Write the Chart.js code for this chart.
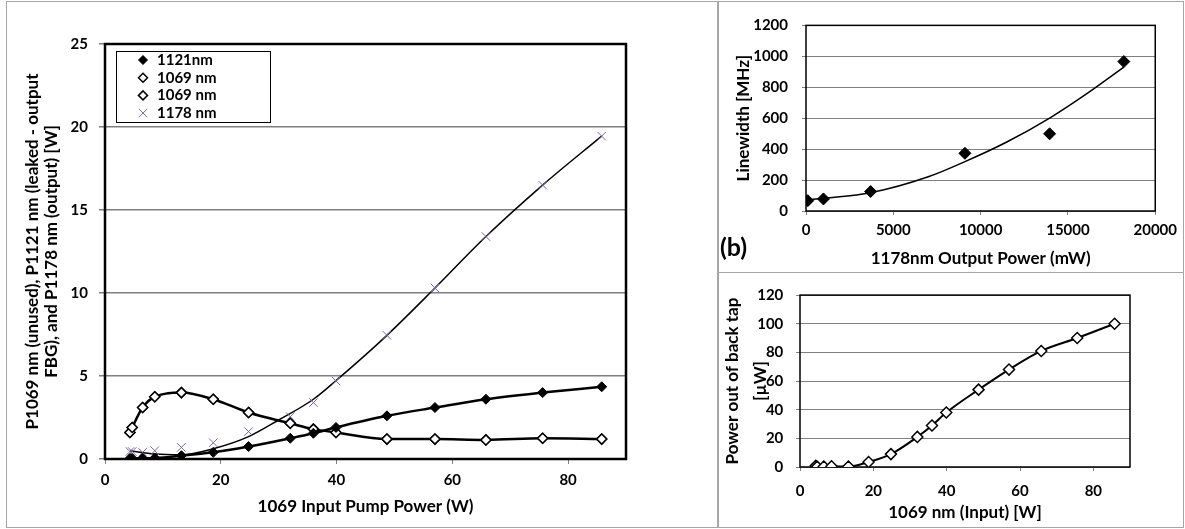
<!DOCTYPE html>
<html>
<head>
<meta charset="utf-8">
<script src="https://cdn.jsdelivr.net/npm/chart.js@4.4.1/dist/chart.umd.min.js"></script>
<style>
  body { margin: 0; background: #fff; width: 1185px; height: 529px; position: relative; overflow: hidden; }
  .panel { position: absolute; border: 1px solid #a6a6a6; box-sizing: border-box; }
  .panel canvas { position: absolute; left: 0; top: 0; }
</style>
</head>
<body>
<div class="panel" style="left:6px;top:1px;width:713px;height:527px"><canvas id="main" width="711" height="525"></canvas></div>
<div class="panel" style="left:717px;top:1px;width:467px;height:272px"><canvas id="lw" width="465" height="270"></canvas></div>
<div class="panel" style="left:717px;top:272px;width:467px;height:256px"><canvas id="tap" width="465" height="254"></canvas></div>
<script>
// main chart: 1069 pump sweep
const pumpPower = [4.3, 4.7, 6.5, 8.6, 13.2, 18.7, 24.8, 32.0, 36.0, 39.9, 48.7, 57.0, 65.8, 75.6, 85.8];
const p1121 = [0.03, 0.03, 0.04, 0.06, 0.2, 0.4, 0.75, 1.25, 1.55, 1.9, 2.6, 3.1, 3.6, 4.0, 4.35];
const p1069 = [1.6, 1.9, 3.1, 3.75, 4.0, 3.6, 2.8, 2.15, 1.8, 1.6, 1.2, 1.2, 1.15, 1.25, 1.2];
const p1178 = [0.45, 0.45, 0.4, 0.5, 0.7, 0.98, 1.65, 2.55, 3.4, 4.7, 7.45, 10.3, 13.4, 16.5, 19.45];
// trend line of the 1178 points
const fit1178X = [4.3, 8.6, 13.2, 18.7, 24.8, 30, 36, 40, 48.7, 57, 65.8, 75.6, 85.8];
const fit1178Y = [0.5, 0.3, 0.25, 0.62, 1.35, 2.35, 3.6, 4.75, 7.45, 10.3, 13.4, 16.5, 19.45];
const mainTicksY = [0, 5, 10, 15, 20, 25];

// (b) linewidth vs output power
const outputPower = [100, 1000, 3700, 9100, 13950, 18200];
const linewidth = [67, 78, 126, 373, 499, 966];
const fitLwX = [100, 1000, 3700, 7000, 9100, 11500, 14000, 16000, 18200];
const fitLwY = [72, 82, 118, 221, 319, 446, 604, 752, 930];

// back tap power
const tapPower = [0.8, 0.2, 0.3, 0.5, 0.3, 3.5, 9, 21, 29, 38, 54, 68, 81, 90, 100];

const FONT = 'Lato';
const grey = '#7f7f7f';
const purple = '#8064a2';
Chart.defaults.color = '#000';
Chart.defaults.font.family = FONT;
Chart.defaults.animation = false;

const pts = (xs, ys) => xs.map((x, i) => ({ x: x, y: ys[i] }));
const bold = (size, lh) => ({ family: FONT, size: size, weight: 'bold', lineHeight: lh || 1.25 });
const plain = v => String(v);

// plot area frame
const frame = {
  id: 'frame',
  beforeDatasetsDraw(chart, args, opts) {
    const a = chart.chartArea, ctx = chart.ctx;
    ctx.save();
    ctx.strokeStyle = opts.color || '#000';
    ctx.lineWidth = opts.width || 1;
    ctx.strokeRect(a.left, a.top, a.right - a.left, a.bottom - a.top);
    ctx.restore();
  }
};

// boxed legend inside the plot area
const boxLegend = {
  id: 'boxLegend',
  afterDraw(chart, args, opts) {
    const a = chart.chartArea, ctx = chart.ctx;
    const x0 = a.left + opts.x, y0 = a.top + opts.y;
    ctx.save();
    ctx.fillStyle = '#fff';
    ctx.fillRect(x0, y0, opts.w, opts.h);
    ctx.strokeStyle = '#000';
    ctx.lineWidth = 1;
    ctx.strokeRect(x0 + 0.5, y0 + 0.5, opts.w, opts.h);
    ctx.font = 'bold ' + opts.size + 'px ' + FONT;
    ctx.textBaseline = 'middle';
    chart.data.datasets.slice(0, opts.count).forEach((ds, i) => {
      const cy = y0 + opts.first + i * opts.step;
      ctx.fillStyle = ds.pointBackgroundColor;
      ctx.strokeStyle = ds.pointBorderColor;
      ctx.lineWidth = ds.pointBorderWidth;
      Chart.helpers.drawPoint(ctx, { pointStyle: ds.pointStyle, radius: ds.legendRadius, rotation: 0, borderWidth: ds.pointBorderWidth }, x0 + opts.markX, cy);
      ctx.fillStyle = '#000';
      ctx.fillText(ds.label, x0 + opts.textX, cy);
    });
    ctx.restore();
  }
};

const panelLabel = {
  id: 'panelLabel',
  afterDraw(chart, args, opts) {
    const ctx = chart.ctx;
    ctx.save();
    ctx.font = 'bold ' + opts.size + 'px ' + FONT;
    ctx.fillStyle = '#000';
    ctx.textBaseline = 'middle';
    ctx.fillText(opts.text, opts.x, opts.y);
    ctx.restore();
  }
};

new Chart(document.getElementById('main'), {
  type: 'scatter',
  data: {
    datasets: [
      { label: '1121nm', data: pts(pumpPower, p1121), showLine: true, borderColor: '#000', borderWidth: 2.5,
        pointStyle: 'rectRot', pointRadius: 5, legendRadius: 4.5, pointBackgroundColor: '#000', pointBorderColor: '#000', pointBorderWidth: 1,
        cubicInterpolationMode: 'monotone' },
      { label: '1069 nm', data: pts(pumpPower, p1069), showLine: true, borderColor: '#000', borderWidth: 2.5,
        pointStyle: 'rectRot', pointRadius: 5, legendRadius: 4.5, pointBackgroundColor: '#fff', pointBorderColor: '#000', pointBorderWidth: 1.5,
        cubicInterpolationMode: 'monotone' },
      { label: '1069 nm', data: pts(pumpPower, p1069), showLine: false,
        pointStyle: 'rectRot', pointRadius: 5, legendRadius: 4.5, pointBackgroundColor: '#fff', pointBorderColor: '#000', pointBorderWidth: 1.5 },
      { label: '1178 nm', data: pts(pumpPower, p1178), showLine: false,
        pointStyle: 'crossRot', pointRadius: 6, legendRadius: 6, pointBackgroundColor: purple, pointBorderColor: purple, pointBorderWidth: 1 },
      { label: '1178 fit', data: pts(fit1178X, fit1178Y), showLine: true, borderColor: '#000', borderWidth: 1.5,
        pointRadius: 0, cubicInterpolationMode: 'monotone' }
    ]
  },
  options: {
    responsive: false,
    layout: { padding: { top: 42, right: 92, bottom: 0, left: 0 } },
    plugins: {
      legend: { display: false },
      tooltip: { enabled: false },
      frame: { color: '#000', width: 2.5 },
      boxLegend: { x: 11, y: 7, w: 154, h: 71, count: 4, first: 9, step: 17.7, markX: 27, textX: 41, size: 15 }
    },
    scales: {
      x: {
        min: 0, max: 90,
        ticks: { stepSize: 20, includeBounds: false, padding: 7, font: bold(15), callback: plain },
        grid: { drawOnChartArea: false, color: grey, tickLength: 5 },
        border: { display: false },
        title: { display: true, text: '1069 Input Pump Power (W)', font: bold(17), padding: { top: 0, bottom: 9.7 } },
        afterFit(s) { s.height = 68; }
      },
      y: {
        min: 0, max: 25,
        afterBuildTicks(s) { s.ticks = mainTicksY.map(v => ({ value: v })); },
        ticks: { padding: 11, font: bold(15), callback: plain },
        grid: { color: grey, lineWidth: 1.5, tickLength: 6 },
        border: { display: false },
        title: { display: true, text: ['P1069 nm (unused), P1121 nm (leaked - output', 'FBG), and P1178 nm (output) [W]'],
                 font: bold(17, 1.12), padding: { top: 15.5, bottom: 0 } },
        afterFit(s) { s.width = 98; }
      }
    }
  },
  plugins: [frame, boxLegend]
});

new Chart(document.getElementById('lw'), {
  type: 'scatter',
  data: {
    datasets: [
      { label: 'Linewidth', data: pts(outputPower, linewidth), showLine: false,
        pointStyle: 'rectRot', pointRadius: 6, pointBackgroundColor: '#000', pointBorderColor: '#000', pointBorderWidth: 1 },
      { label: 'fit', data: pts(fitLwX, fitLwY), showLine: true, borderColor: '#000', borderWidth: 1.5,
        pointRadius: 0, cubicInterpolationMode: 'monotone' }
    ]
  },
  options: {
    responsive: false,
    layout: { padding: { top: 19, right: 20, bottom: 0, left: 0 } },
    plugins: {
      legend: { display: false },
      tooltip: { enabled: false },
      frame: { color: '#000', width: 1.5 },
      panelLabel: { text: '(b)', x: 2, y: 246, size: 25 }
    },
    scales: {
      x: {
        min: 0, max: 20000,
        ticks: { stepSize: 5000, padding: 6, font: bold(15), callback: plain },
        grid: { drawOnChartArea: false, color: grey, tickLength: 4 },
        border: { display: false },
        title: { display: true, text: '1178nm Output Power (mW)', font: bold(17), padding: { top: 0, bottom: 3.1 } },
        afterFit(s) { s.height = 61; }
      },
      y: {
        min: 0, max: 1200,
        ticks: { stepSize: 200, padding: 14, font: bold(15), callback: plain },
        grid: { color: grey, lineWidth: 1, tickLength: 4 },
        border: { display: false },
        title: { display: true, text: 'Linewidth [MHz]', font: bold(17), padding: { top: 14.4, bottom: 0 } },
        afterFit(s) { s.width = 88; }
      }
    }
  },
  plugins: [frame, panelLabel]
});

new Chart(document.getElementById('tap'), {
  type: 'scatter',
  data: {
    datasets: [
      { label: 'Back tap', data: pts(pumpPower, tapPower), showLine: true, borderColor: '#000', borderWidth: 2,
        pointStyle: 'rectRot', pointRadius: 5.5, pointBackgroundColor: '#fff', pointBorderColor: '#000', pointBorderWidth: 1.5,
        cubicInterpolationMode: 'monotone' }
    ]
  },
  options: {
    responsive: false,
    layout: { padding: { top: 21, right: 53, bottom: 0, left: 0 } },
    plugins: {
      legend: { display: false },
      tooltip: { enabled: false },
      frame: { color: '#000', width: 1.5 }
    },
    scales: {
      x: {
        min: 0, max: 90,
        ticks: { stepSize: 20, includeBounds: false, padding: 11, font: bold(15), callback: plain },
        grid: { drawOnChartArea: false, color: grey, tickLength: 4 },
        border: { display: false },
        title: { display: true, text: '1069 nm (Input) [W]', font: bold(17), padding: { top: 0, bottom: 3.4 } },
        afterFit(s) { s.height = 60; }
      },
      y: {
        min: 0, max: 120,
        ticks: { stepSize: 20, padding: 12.7, font: bold(15), callback: plain },
        grid: { color: grey, lineWidth: 1, tickLength: 4 },
        border: { display: false },
        title: { display: true, text: ['Power out of back tap', '[\u00b5W]'], font: bold(17, '28px'), padding: { top: 1, bottom: 0 } },
        afterFit(s) { s.width = 82; }
      }
    }
  },
  plugins: [frame]
});
</script>
</body>
</html>
